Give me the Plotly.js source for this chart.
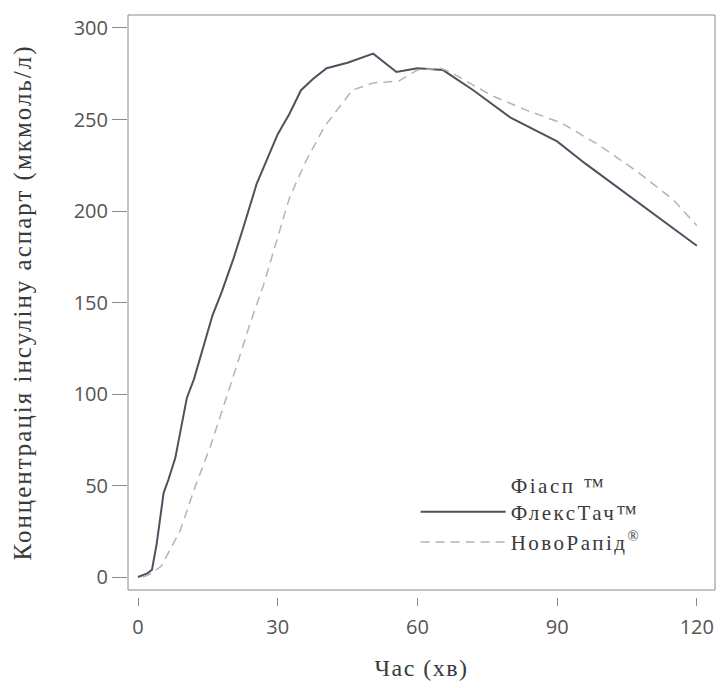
<!DOCTYPE html>
<html>
<head>
<meta charset="utf-8">
<script src="https://cdn.plot.ly/plotly-3.0.1.min.js"></script>
<style>
  html, body { margin: 0; padding: 0; background: #ffffff; }
  #chart { width: 721px; height: 688px; }
  .legendtext { letter-spacing: 2.5px; }
  .xtitle { letter-spacing: 1.5px; }
  .ytitle { letter-spacing: 2px; }
</style>
</head>
<body>
<div id="chart"></div>
<script>
// Time (min) and insulin aspart concentration (labelled мкмоль/л)
const timeFiasp = [0, 2, 3, 4, 5.5, 6.5, 8, 9.5, 10.5, 12, 14, 16, 18, 20.5, 22.5, 25.5, 28, 30, 32.5, 35, 37.5, 40.5, 45, 50.5, 55.5, 60, 65.5, 72, 80, 90, 96, 105, 111, 120];
const concFiasp = [0, 2, 4, 18, 46, 53, 65, 85, 98, 108, 125, 143, 156, 174, 190, 215, 230, 242, 253, 266, 272, 278, 281, 286, 276, 278, 277, 266, 251, 238, 226, 209, 198, 181];

const timeNovo = [1, 3, 5, 9, 12.5, 15.5, 20, 24, 27, 30, 32.5, 36, 40, 46, 50.5, 56, 60, 65, 67, 76, 83.5, 91, 99, 107.5, 115, 120];
const concNovo = [0, 2, 6, 25, 51, 71, 106, 138, 160, 186, 207, 227, 246, 266, 270, 271, 277, 278, 276, 263, 255, 248, 236, 221, 206, 192];

const seriesNames = ["Фіасп ™<br>ФлексТач™", "НовоРапід<sup>®</sup>"];
const xTicks = [0, 30, 60, 90, 120];
const yTicks = [0, 50, 100, 150, 200, 250, 300];

const serif = "Liberation Serif, Times New Roman, serif";
const sans = "Open Sans, DejaVu Sans, sans-serif";

const traces = [
  {
    x: timeFiasp, y: concFiasp, name: seriesNames[0],
    type: "scatter", mode: "lines",
    line: { color: "#4d525e", width: 2 }
  },
  {
    x: timeNovo, y: concNovo, name: seriesNames[1],
    type: "scatter", mode: "lines",
    line: { color: "#b4b4b4", width: 1.5, dash: "9px,6px" }
  }
];

const layout = {
  width: 721, height: 688,
  margin: { l: 128, r: 6, t: 15, b: 91 },
  paper_bgcolor: "#ffffff", plot_bgcolor: "#ffffff",
  showlegend: true,
  legend: {
    x: 0.49, xanchor: "left", y: 0.228, yanchor: "top",
    bgcolor: "rgba(0,0,0,0)", borderwidth: 0,
    font: { family: serif, size: 21, color: "#3a3a3a" },
    valign: "bottom", itemwidth: 85, tracegroupgap: 0
  },
  xaxis: {
    range: [-2.15, 123.9], anchor: "free", position: 0,
    tickvals: xTicks, ticktext: xTicks.map(String),
    showgrid: false, zeroline: false, showline: false,
    ticks: "outside", ticklen: 8, tickwidth: 1, tickcolor: "#8a8a8a",
    ticklabelstandoff: 4,
    tickfont: { family: sans, size: 20, color: "#555555" },
    title: { text: "Час (хв)", font: { family: serif, size: 24, color: "#3a3a3a" }, standoff: 20 }
  },
  yaxis: {
    range: [-7.1, 307.1], domain: [0.012, 1],
    tickvals: yTicks, ticktext: yTicks.map(String),
    showgrid: false, zeroline: false, showline: false,
    ticks: "outside", ticklen: 15, tickwidth: 1, tickcolor: "#8a8a8a",
    tickfont: { family: sans, size: 20, color: "#555555" },
    title: { text: "Концентрація інсуліну аспарт (мкмоль/л)", font: { family: serif, size: 25, color: "#3a3a3a" }, standoff: 34 }
  },
  shapes: [
    { type: "rect", xref: "x domain", yref: "y domain", x0: 0, x1: 1, y0: 0, y1: 1,
      line: { color: "#8a8a8a", width: 1 }, fillcolor: "rgba(0,0,0,0)", layer: "above" }
  ]
};

Plotly.newPlot("chart", traces, layout, { displayModeBar: false, staticPlot: true });
</script>
</body>
</html>
